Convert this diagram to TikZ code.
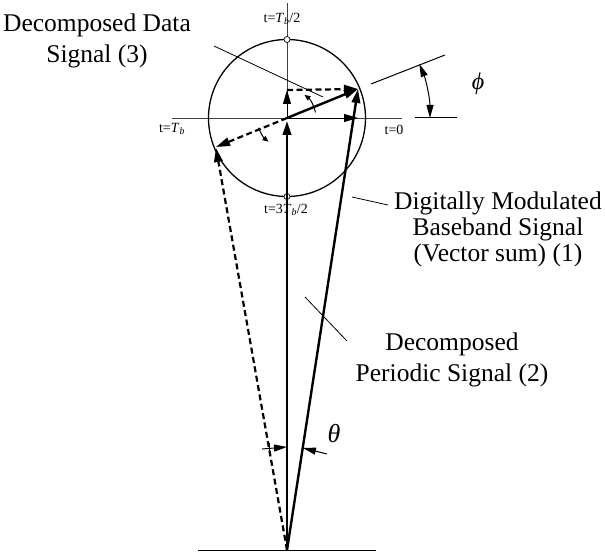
\documentclass[tikz,border=0pt]{standalone}
\usepackage{fontspec}
\setmainfont{Liberation Serif}
\usetikzlibrary{arrows.meta,calc}
\begin{document}
\begin{tikzpicture}[x=1pt,y=-1pt,
  axis/.style={line width=0.8pt,black!75},
  vec/.style={line width=2.4pt,-{Triangle[length=14pt,width=8.5pt]}},
  thinvec/.style={line width=0.9pt,-{Triangle[length=14pt,width=8pt]}},
  dvec/.style={line width=2.2pt,dash pattern=on 6pt off 3.5pt,-{Triangle[length=14pt,width=8.5pt]}},
  leader/.style={line width=0.8pt},
  small/.style={font=\fontsize{14}{16}\selectfont,inner sep=0pt},
  big/.style={font=\fontsize{25.5}{31}\selectfont,align=center,inner sep=0pt},
  rot/.style={line width=1pt,-{Triangle[length=6pt,width=5pt]}},
  dim/.style={line width=1pt,-{Triangle[length=13pt,width=7pt]}}
]
\useasboundingbox (0,0) rectangle (605,556);
% key points
\coordinate (C) at (287,118);
\coordinate (O) at (287,550);
\coordinate (D) at (358,89);
\coordinate (Dv) at (287,90);
\coordinate (Dh) at (358,118);
\coordinate (E) at (216,147);
\coordinate (E2) at (216,148);
% axes
\draw[axis] (287,3) -- (C);
\draw[axis] (172,118) -- (402,118);
% circle
\draw[line width=1.3pt] (C) circle[radius=78.5];
\draw[line width=0.7pt,fill=white] (287,39.5) circle[radius=3];
\draw[line width=0.7pt,fill=white] (287,196.5) circle[radius=3];
% bottom line
\draw[line width=1pt] (198,550) -- (376,550);
% vectors
\draw[vec] (O) -- (287,121);
\draw[vec] (O) -- (D);
\draw[dvec] (O) -- (E2);
\draw[vec] (C) -- (D);
\draw[dvec] (C) -- (E);
\draw[thinvec] (C) -- (Dv);
\draw[thinvec] (C) -- (Dh);
\draw[dvec] (Dv) -- (D);
% rotation arrows
\draw[rot] ($(C)+(-11:29)$) arc[start angle=-11,end angle=-53,radius=29];
\draw[rot] ($(C)+(161:30)$) arc[start angle=161,end angle=128,radius=30];
% phi dimension
\coordinate (P1) at (371,84);
\coordinate (P2) at (445,55);
\draw[line width=1pt] (P1) -- (P2);
\coordinate (H1) at (415,118);
\coordinate (H2) at (457,118);
\draw[line width=1pt] (H1) -- (H2);
\draw[line width=1pt,{Triangle[length=13pt,width=7pt]}-{Triangle[length=13pt,width=7pt]}] (430,118) arc[start angle=0,end angle=-22.2,radius=143];
\node[font=\fontsize{24}{26}\selectfont\itshape] (phi) at (478,84) {ϕ};
% theta
\coordinate (T1) at (262,449);
\coordinate (T2) at (287,447);
\coordinate (T3) at (327,454);
\coordinate (T4) at (303,448);
\draw[dim] (T1) -- (T2);
\draw[dim] (T3) -- (T4);
\draw[line width=0.8pt] (269,443) -- (269,452);
\node[font=\fontsize{26}{28}\selectfont\itshape] (theta) at (334,434) {θ};
% small labels
\node[small] (l1) at (282,19) {t=\textit{T}\textsubscript{\textit{b}}/2};
\node[small] (l2) at (172,129) {t=\textit{T}\textsubscript{\textit{b}}};
\node[small] (l3) at (394,130) {t=0};
\node[small] (l4) at (286,210) {t=3\textit{T}\textsubscript{\textit{b}}/2};
% big labels
\node[big] (lab3) at (97,41) {Decomposed Data\\Signal (3)};
\node[big,font=\fontsize{25.5}{26}\selectfont] (lab1) at (498,229) {Digitally Modulated\\Baseband Signal\\(Vector sum) (1)};
\node[big] (lab2) at (452,360) {Decomposed\\Periodic Signal (2)};
% leaders
\coordinate (a1) at (214,46); \coordinate (a2) at (323,97);
\draw[leader] (a1) -- (a2);
\coordinate (b1) at (352,197); \coordinate (b2) at (388,205);
\draw[leader] (b1) -- (b2);
\coordinate (c1) at (305,297); \coordinate (c2) at (347,341);
\draw[leader] (c1) -- (c2);
\end{tikzpicture}
\end{document}
